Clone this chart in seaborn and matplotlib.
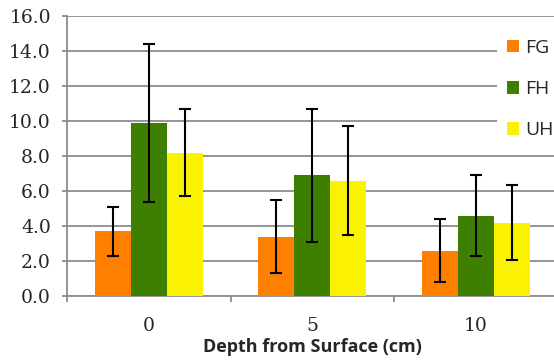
import pandas as pd
import matplotlib
matplotlib.use("Agg")
import matplotlib.pyplot as plt
import seaborn as sns
from matplotlib.patches import Patch

# Data
depths = ["0", "5", "10"]
groups = ["FG", "FH", "UH"]
fg_means = [3.7, 3.4, 2.6]
fh_means = [9.9, 6.9, 4.6]
uh_means = [8.2, 6.6, 4.2]
fg_err = [1.4, 2.1, 1.8]
fh_err = [4.5, 3.8, 2.3]
uh_err = [2.5, 3.1, 2.15]

colors = {"FG": "#FF7F00", "FH": "#3F7F00", "UH": "#FAF200"}
grid_color = "#8C8C8C"

# Build long table
rows = []
for g, means, errs in [("FG", fg_means, fg_err), ("FH", fh_means, fh_err), ("UH", uh_means, uh_err)]:
    for d, m, e in zip(depths, means, errs):
        rows.append({"Depth": d, "Group": g, "Value": m, "Err": e})
df = pd.DataFrame(rows)

sns.set_style("white")

fig = plt.figure(figsize=(5.54, 3.62), dpi=100)
ax = fig.add_axes([67 / 554, 1 - 296 / 362, (557.5 - 67) / 554, 280 / 362])

sns.barplot(data=df, x="Depth", y="Value", hue="Group", order=depths, hue_order=groups,
            palette=colors, width=0.66, errorbar=None, saturation=1, linewidth=0,
            legend=False, ax=ax, zorder=3)

# Error bars at the bar centres
for i, g in enumerate(groups):
    sub = df[df["Group"] == g].set_index("Depth").loc[depths]
    bars = ax.containers[i]
    xs = [b.get_x() + b.get_width() / 2 for b in bars]
    ax.errorbar(xs, sub["Value"], yerr=sub["Err"], fmt="none", ecolor="black",
                elinewidth=1.5, capsize=4, capthick=1.5, zorder=4)

ax.set_ylim(0, 16)
ax.set_yticks(range(0, 17, 2))
ax.set_yticklabels([f"{v:.1f}" for v in range(0, 17, 2)], fontfamily="DejaVu Serif", fontsize=13.5)
ax.set_xlim(-0.5, 2.5)
ax.set_xticks([-0.5, 0.5, 1.5, 2.5], minor=True)
ax.set_xticklabels(depths, fontfamily="DejaVu Serif", fontsize=13.5)

ax.yaxis.grid(True, color=grid_color, linewidth=1.3, zorder=0)
ax.set_axisbelow(True)
for side in ["top", "right"]:
    ax.spines[side].set_visible(False)
for side in ["left", "bottom"]:
    ax.spines[side].set_color(grid_color)
    ax.spines[side].set_linewidth(1.3)

ax.tick_params(axis="y", left=True, length=3.6, width=1.3, color=grid_color, pad=8)
ax.tick_params(axis="x", which="major", length=0, pad=15)
ax.tick_params(axis="x", which="minor", bottom=True, length=4.5, width=1.3, color=grid_color)

ax.set_xlabel("Depth from Surface (cm)", fontfamily="Open Sans", fontweight="bold",
              fontsize=13, labelpad=2)
ax.set_ylabel("")

handles = [Patch(facecolor=colors[g], edgecolor="none", label=g) for g in groups]
leg = fig.legend(handles=handles, loc="upper left", bbox_to_anchor=(497 / 554, 1 - 29 / 362),
                 frameon=True, fancybox=False, framealpha=1, edgecolor="white",
                 prop={"family": "Open Sans", "size": 14}, handlelength=0.62,
                 handleheight=0.62, handletextpad=0.32, labelspacing=1.2,
                 borderpad=0.5, borderaxespad=0)
leg.get_frame().set_linewidth(0)

fig.savefig("out.png", dpi=100)
